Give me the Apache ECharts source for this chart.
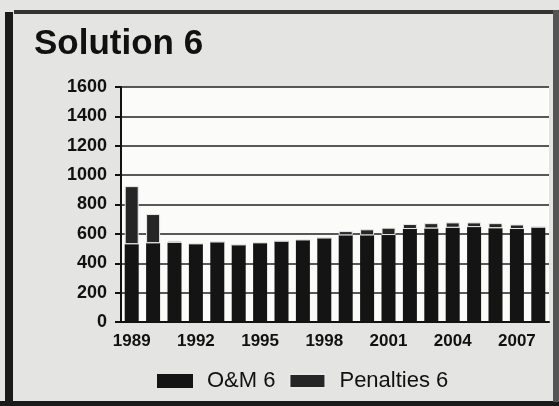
<!DOCTYPE html>
<html>
<head>
<meta charset="utf-8">
<style>
  html, body { margin: 0; padding: 0; background: #e4e4e2; }
  #chart-container { width: 559px; height: 406px; }
</style>
<script src="https://cdn.jsdelivr.net/npm/echarts@6/dist/echarts.min.js"></script>
</head>
<body>
<div id="chart-container"></div>
<script>
var years = ['1989','1990','1991','1992','1993','1994','1995','1996','1997','1998',
             '1999','2000','2001','2002','2003','2004','2005','2006','2007','2008'];
var om6 = [530, 537, 540, 533, 546, 526, 540, 551, 560, 573,
           590, 590, 592, 633, 637, 642, 646, 639, 633, 643];
var penalties6 = [395, 198, 13, 0, 0, 0, 0, 0, 0, 0,
                  29, 41, 50, 34, 36, 36, 32, 34, 31, 10];
var yTicks = [0, 200, 400, 600, 800, 1000, 1200, 1400, 1600];

var dom = document.getElementById('chart-container');
var myChart = echarts.init(dom, null, { renderer: 'canvas' });

var option = {
  backgroundColor: '#e4e4e2',
  animation: false,
  title: {
    text: 'Solution 6',
    left: 29,
    top: 22,
    textStyle: { fontFamily: 'Liberation Sans', fontWeight: 'bold', fontSize: 35, color: '#111' }
  },
  legend: {
    top: 365,
    left: 152,
    itemWidth: 36,
    itemHeight: 14,
    itemGap: 13,
    icon: 'rect',
    textStyle: { fontFamily: 'Liberation Sans', fontSize: 22, color: '#111', padding: [0, 0, 0, 9] },
    data: ['O&M 6', 'Penalties 6']
  },
  grid: { left: 121, right: 10, top: 87, bottom: 84 },
  xAxis: {
    type: 'category',
    data: years,
    axisLine: { lineStyle: { color: '#111', width: 2 } },
    axisTick: { show: false },
    axisLabel: {
      interval: 2,
      margin: 11,
      fontFamily: 'Liberation Sans', fontWeight: 'bold', fontSize: 17, color: '#111'
    }
  },
  yAxis: {
    type: 'value',
    min: 0,
    max: 1600,
    interval: 200,
    axisLine: { show: true, lineStyle: { color: '#111', width: 2 } },
    axisTick: { show: true, length: 6, lineStyle: { color: '#111', width: 2 } },
    splitLine: { lineStyle: { color: '#222', width: 1.5 } },
    splitArea: { show: true, areaStyle: { color: ['#fbfbfa', '#fbfbfa'] } },
    axisLabel: {
      margin: 14,
      fontFamily: 'Liberation Sans', fontWeight: 'bold', fontSize: 18, color: '#111',
      formatter: function (v) { return yTicks.indexOf(v) >= 0 ? String(v) : ''; }
    }
  },
  graphic: [
    { type: 'rect', shape: { x: 5, y: 12, width: 8, height: 390 }, style: { fill: '#1a1a1a' } },
    { type: 'rect', shape: { x: 14, y: 10, width: 545, height: 4 }, style: { fill: '#333' } },
    { type: 'rect', shape: { x: 0, y: 401, width: 559, height: 5 }, style: { fill: '#1a1a1a' } },
    { type: 'rect', shape: { x: 553, y: 10, width: 6, height: 392 }, style: { fill: '#555' } }
  ],
  series: [
    {
      name: 'O&M 6',
      type: 'bar',
      stack: 'total',
      barWidth: 14,
      itemStyle: { color: '#141414' },
      data: om6
    },
    {
      name: 'Penalties 6',
      type: 'bar',
      stack: 'total',
      barWidth: 14,
      itemStyle: { color: '#262626', borderColor: '#e8e8e8', borderWidth: 1 },
      data: penalties6
    }
  ]
};

myChart.setOption(option);
window.addEventListener('resize', myChart.resize);
</script>
</body>
</html>
